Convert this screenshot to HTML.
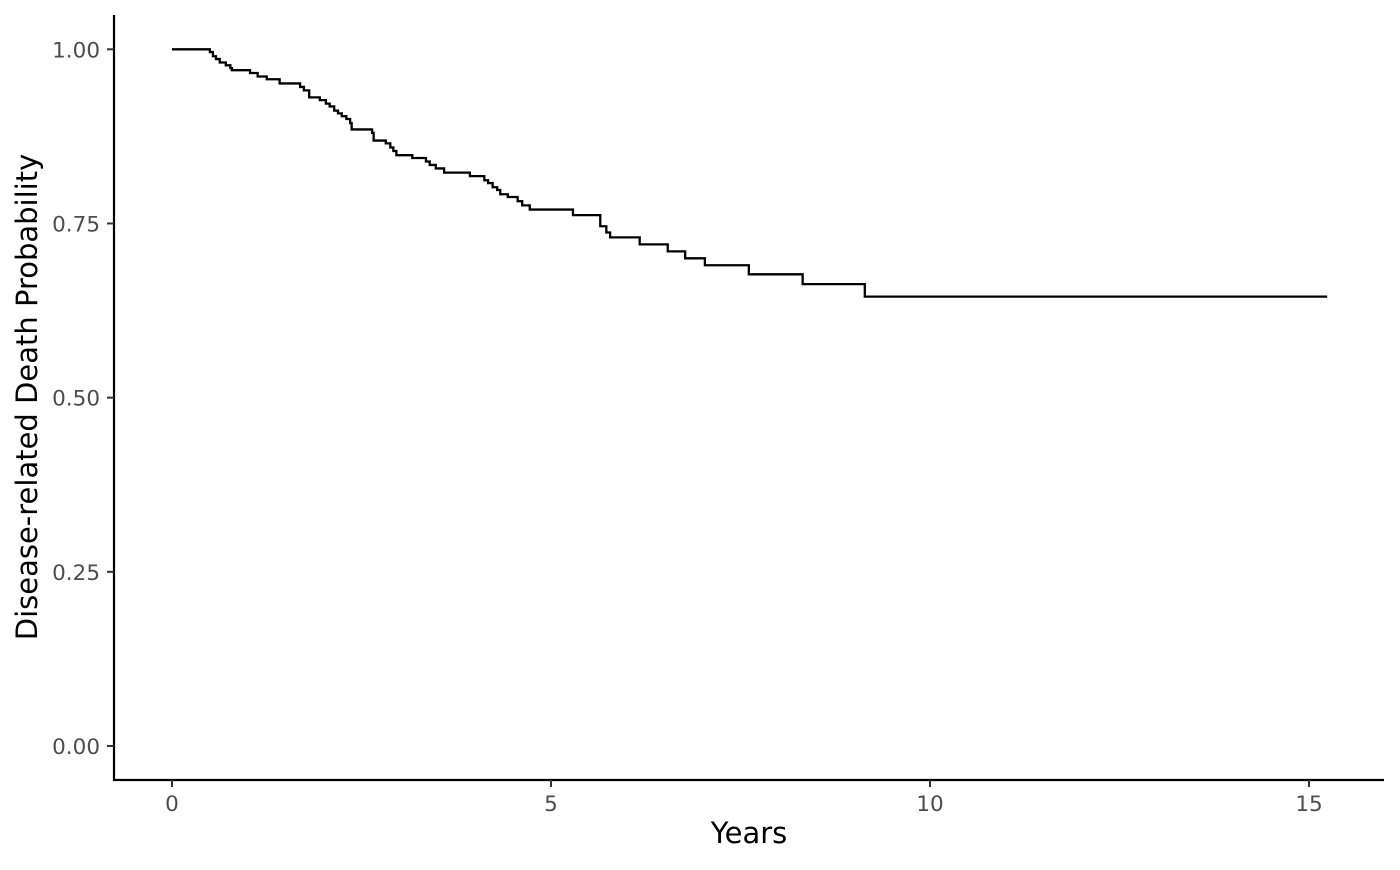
<!DOCTYPE html>
<html><head><meta charset="utf-8"><style>
body{margin:0;background:#fff;}
svg text{font-family:"DejaVu Sans","Liberation Sans",sans-serif;}
</style></head><body>
<svg id="chart" width="1400" height="865" xmlns="http://www.w3.org/2000/svg">
<rect width="1400" height="865" fill="#fff"/>
<g id="axes"></g>
<path id="curve" fill="none" stroke="#000" stroke-width="2.3"/>
<text x="749" y="843" font-size="29" text-anchor="middle">Years</text>
<text transform="translate(37,397) rotate(-90)" font-size="29" text-anchor="middle">Disease-related Death Probability</text>
</svg>
<script>
const times=[0,0.50,0.54,0.58,0.63,0.71,0.77,0.79,1.03,1.13,1.25,1.42,1.69,1.74,1.81,1.95,2.03,2.08,2.14,2.19,2.24,2.30,2.35,2.37,2.64,2.66,2.82,2.88,2.92,2.96,3.17,3.35,3.40,3.48,3.59,3.93,4.12,4.17,4.23,4.29,4.33,4.43,4.56,4.62,4.72,5.29,5.65,5.73,5.78,6.17,6.54,6.77,7.03,7.61,8.32,9.14];
const surv=[1,0.996,0.990,0.986,0.981,0.977,0.973,0.970,0.966,0.961,0.957,0.951,0.946,0.941,0.931,0.927,0.922,0.918,0.912,0.908,0.904,0.900,0.894,0.885,0.880,0.869,0.865,0.859,0.854,0.848,0.844,0.839,0.834,0.829,0.823,0.818,0.812,0.808,0.802,0.798,0.792,0.788,0.782,0.776,0.770,0.762,0.746,0.737,0.730,0.720,0.710,0.700,0.690,0.677,0.663,0.645];
const endTime=15.24;
const xTicks=[0,5,10,15];
const xTickLabels=["0","5","10","15"];
const yTicks=[0,0.25,0.5,0.75,1];
const yTickLabels=["0.00","0.25","0.50","0.75","1.00"];
const X=t=>172+t*75.8, Y=s=>746-s*696.7;
const NS="http://www.w3.org/2000/svg";
const ax=document.getElementById('axes');
function mk(tag,attrs,txt){const e=document.createElementNS(NS,tag);for(const k in attrs)e.setAttribute(k,attrs[k]);if(txt!=null)e.textContent=txt;ax.appendChild(e);return e;}
let e=mk('line',{x1:113,y1:780,x2:1384,y2:780,stroke:'#000','stroke-width':2.2});


e=mk('line',{x1:114,y1:15,x2:114,y2:781,stroke:'#000','stroke-width':2.2});


xTicks.forEach((v,i)=>{
 let t=mk('line',{x1:X(v),y1:780,x2:X(v),y2:787,stroke:'#333','stroke-width':2});
 
 
 let l=mk('text',{x:X(v),y:811,'font-size':21.5,fill:'#4d4d4d','text-anchor':'middle'},xTickLabels[i]);
 
 
});
yTicks.forEach((v,i)=>{
 let t=mk('line',{x1:107,y1:Y(v),x2:114,y2:Y(v),stroke:'#333','stroke-width':2});
 
 
 let l=mk('text',{x:100,y:Y(v)+8,'font-size':21.5,fill:'#4d4d4d','text-anchor':'end'},yTickLabels[i]);
 
 
});
let d='M'+X(times[0])+','+Y(surv[0]);
for(let i=1;i<times.length;i++){d+=' H'+X(times[i])+' V'+Y(surv[i]);}
d+=' H'+X(endTime);
document.getElementById('curve').setAttribute('d',d);
</script>
</body></html>
